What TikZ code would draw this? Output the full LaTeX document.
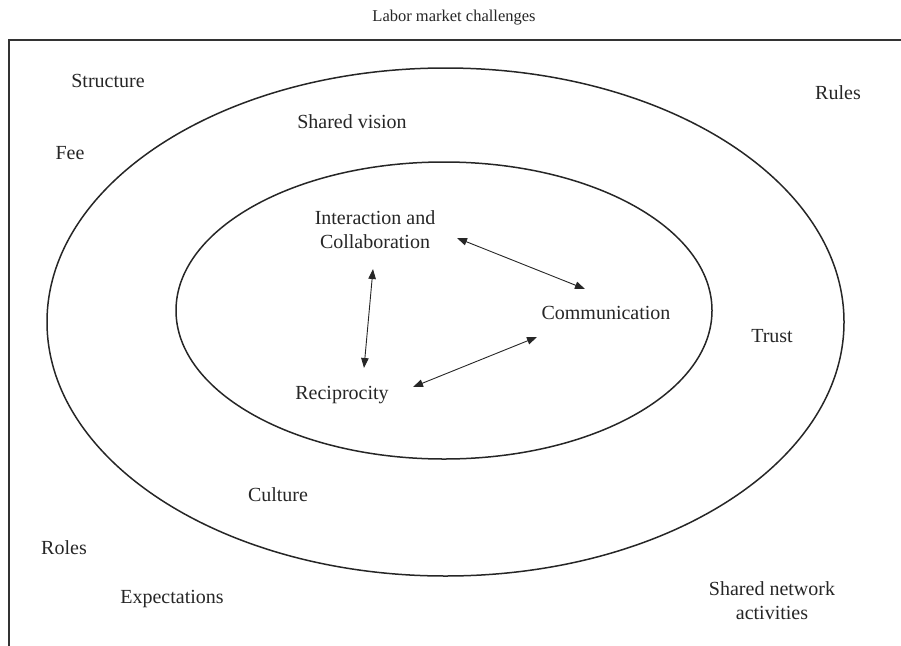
\documentclass[tikz,border=0pt]{standalone}
\usepackage{fontspec}
\setmainfont{Liberation Serif}
\usetikzlibrary{arrows.meta}
\begin{document}
\begin{tikzpicture}[x=1pt,y=-1pt,
  lbl/.style={font=\fontsize{20}{24}\selectfont, text=black!85, align=center, inner sep=0pt},
  ttl/.style={font=\fontsize{16.5}{20}\selectfont, text=black!85, inner sep=0pt},
  ring/.style={draw=black!85, line width=1.5pt},
  frame/.style={draw=black!80, line width=1.6pt},
  biarrow/.style={draw=black!85, line width=0.9pt, {Triangle[length=10pt,width=7.5pt]}-{Triangle[length=10pt,width=7.5pt]}}]
\useasboundingbox (0,0) rectangle (901,645);
\draw[frame] (9,650) -- (9,40) -- (910,40);
\draw[ring] (445.5,322) ellipse [x radius=398.5, y radius=254];
\draw[ring] (444,310.5) ellipse [x radius=268, y radius=148.5];
\node[ttl] (title) at (454,18) {Labor market challenges};
\node[lbl] (structure) at (108,81) {Structure};
\node[lbl] (rules) at (838,93) {Rules};
\node[lbl] (vision) at (352,122) {Shared vision};
\node[lbl] (fee) at (70,153) {Fee};
\node[lbl] (interaction) at (375,230) {Interaction and\\Collaboration};
\node[lbl] (communication) at (606,313) {Communication};
\node[lbl] (trust) at (772,336) {Trust};
\node[lbl] (reciprocity) at (342,395) {Reciprocity};
\node[lbl] (culture) at (278,495) {Culture};
\node[lbl] (roles) at (64,548) {Roles};
\node[lbl] (activities) at (772,601) {Shared network\\activities};
\node[lbl] (expectations) at (172,599) {Expectations};
\coordinate (ic) at (457,238);
\coordinate (ci) at (585,289);
\coordinate (ir) at (373,269);
\coordinate (ri) at (364,368);
\coordinate (rc) at (413,387);
\coordinate (cr) at (537,337);
\draw[biarrow] (ic) -- (ci);
\draw[biarrow] (ir) -- (ri);
\draw[biarrow] (rc) -- (cr);
\end{tikzpicture}
\end{document}
